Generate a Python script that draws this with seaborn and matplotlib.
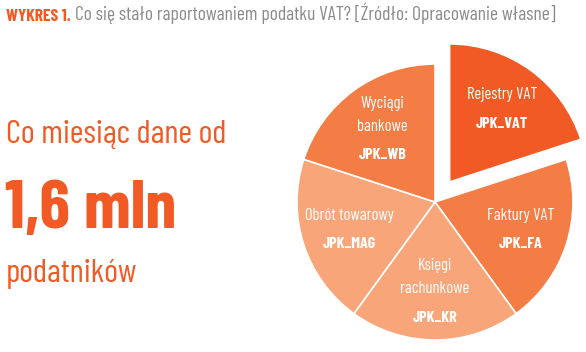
import matplotlib
matplotlib.use("Agg")
import matplotlib.pyplot as plt
import numpy as np
import seaborn as sns

# pie data: five equal parts of the JPK reporting
segments = ["Rejestry VAT", "Faktury VAT", "Księgi\nrachunkowe", "Obrót towarowy", "Wyciągi\nbankowe"]
codes = ["JPK_VAT", "JPK_FA", "JPK_KR", "JPK_MAG", "JPK_WB"]
shares = [1, 1, 1, 1, 1]
explode = [0.18, 0, 0, 0, 0]
colors = ["#F15A24", "#F37D45", "#F8A679", "#F8A679", "#F37D45"]

title_tag = "WYKRES 1."
title_text = "Co się stało raportowaniem podatku VAT? [Źródło: Opracowanie własne]"
headline = ["Co miesiąc dane od", "1,6 mln", "podatników"]

orange = "#F15A24"
grey = "#8A8A8A"

sns.set_theme(style="white")
plt.rcParams["font.family"] = ["Barlow Condensed", "Roboto Condensed", "DejaVu Sans"]

fig = plt.figure(figsize=(5.86, 3.52), dpi=100)

# background axes in pixel units for the free text
bg = fig.add_axes([0, 0, 1, 1])
bg.set_xlim(0, 586)
bg.set_ylim(352, 0)
bg.axis("off")

t1 = bg.text(6, 21, title_tag, color=orange, fontsize=12.5, fontweight="bold", va="baseline")
bg.annotate(title_text, xy=(1, 0), xycoords=t1, xytext=(3, 0), textcoords="offset points",
            color=grey, fontsize=14, va="bottom", ha="left")

bg.text(6, 143, headline[0], color=orange, fontsize=24, va="baseline")
bg.text(5, 228, headline[1], color=orange, fontsize=50, fontweight="bold", va="baseline")
bg.text(6, 282, headline[2], color=orange, fontsize=24, va="baseline")

# pie axes: square, centre at (435, 202) px, radius 138 px
ax = fig.add_axes([270 / 586, 1 - 367 / 352, 330 / 586, 330 / 352])
wedges, _ = ax.pie(shares, explode=explode, colors=colors, startangle=90, counterclock=False,
                   wedgeprops=dict(edgecolor="white", linewidth=1.2))
lim = 165 / 138
ax.set_xlim(-lim, lim)
ax.set_ylim(-lim, lim)

px = 0.72  # points per pixel at 100 dpi
for w, name, code in zip(wedges, segments, codes):
    mid = np.deg2rad((w.theta1 + w.theta2) / 2)
    cx, cy = w.center
    x = cx + 0.65 * w.r * np.cos(mid)
    y = cy + 0.65 * w.r * np.sin(mid)
    lines = name.split("\n")
    code_off = (len(lines) - 1) * 23 + 29
    half = code_off / 2
    for i, line in enumerate(lines):
        ax.annotate(line, (x, y), xytext=(0, (half - i * 23) * px), textcoords="offset points",
                    ha="center", va="center", color="white", fontsize=12)
    ax.annotate(code, (x, y), xytext=(0, (half - code_off) * px), textcoords="offset points",
                ha="center", va="center", color="white", fontsize=11.5, fontweight="bold")

plt.savefig("out.png", dpi=100)
